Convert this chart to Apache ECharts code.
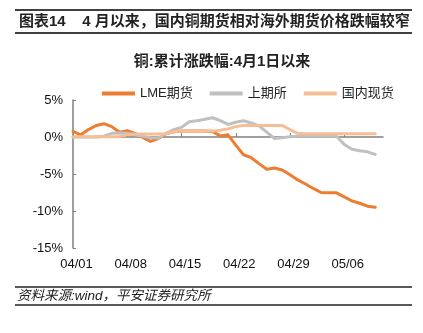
<!DOCTYPE html>
<html>
<head>
<meta charset="utf-8">
<script src="https://cdn.jsdelivr.net/npm/echarts@6/dist/echarts.min.js"></script>
<style>
html,body{margin:0;padding:0;background:#fff;}
#c{width:423px;height:333px;}
</style>
</head>
<body>
<div id="c"></div>
<script>
var dates = ['04/01','04/02','04/03','04/04','04/05','04/06','04/07','04/08','04/09','04/10',
  '04/11','04/12','04/13','04/14','04/15','04/16','04/17','04/18','04/19','04/20',
  '04/21','04/22','04/23','04/24','04/25','04/26','04/27','04/28','04/29','04/30',
  '05/01','05/02','05/03','05/04','05/05','05/06','05/07','05/08','05/09','05/10','05/11'];
var seriesNames = ['LME期货','上期所','国内现货'];
var lme = [0.75,0.3,1.0,1.55,1.8,1.4,0.65,0.85,0.5,-0.05,
  -0.6,-0.2,0.45,0.7,0.8,0.8,0.8,0.8,0.75,0.15,
  0.3,-1.1,-2.4,-2.8,-3.6,-4.35,-4.2,-4.45,-5.1,-5.8,
  -6.35,-6.95,-7.5,-7.55,-7.55,-8.1,-8.65,-8.95,-9.35,-9.5];
var shfe = [0,0,0,0,0.1,0.5,0.55,0.5,0.3,0.1,
  -0.1,-0.15,0.5,1.0,1.3,2.05,2.2,2.4,2.6,2.2,
  1.7,2.0,2.2,1.9,1.5,0.65,-0.2,-0.1,0.05,0.1,
  0.1,0.1,0.1,0.1,0.1,-1.0,-1.65,-1.85,-2.0,-2.35];
var spot = [0,0.05,0.05,0.05,0.05,0.05,0.05,0.3,0.4,0.4,
  0.4,0.4,0.45,0.7,0.85,0.8,0.8,0.8,0.8,0.9,
  1.1,1.4,1.55,1.55,1.55,1.55,1.55,1.55,1.0,0.5,
  0.45,0.45,0.45,0.45,0.45,0.45,0.45,0.45,0.45,0.45];
var yTicks = {min:-15, max:5, step:5};
var colors = ['#ED7D31','#C0C0C0','#F6BE94'];

var FONT = '"Liberation Sans", "Noto Sans CJK SC", sans-serif';
var chart = echarts.init(document.getElementById('c'), null, {renderer:'canvas'});
var seriesData = [lme, shfe, spot];
chart.setOption({
  animation: false,
  textStyle: {fontFamily: FONT},
  color: colors,
  grid: {left: 73, top: 100, width: 310, height: 148},
  legend: {
    left: 97, top: 82, itemGap: 17, itemWidth: 33, itemHeight: 4, icon: 'rect',
    data: seriesNames,
    textStyle: {fontSize: 13, color: '#222', fontFamily: FONT}
  },
  xAxis: [{
    type: 'category', data: dates, boundaryGap: false, position: 'bottom',
    axisLine: {show: false, onZero: false},
    axisTick: {show: false},
    splitLine: {show: false},
    axisLabel: {interval: 6, fontSize: 13, color: '#111', margin: 10, padding: [0,0,0,7], fontFamily: FONT}
  }, {
    type: 'category', data: dates, boundaryGap: false, position: 'bottom',
    axisLine: {show: true, onZero: true, lineStyle: {color: '#808080', width: 1.5}},
    axisTick: {show: true, inside: true, length: 4, interval: 6, lineStyle: {color: '#808080', width: 1}},
    axisLabel: {show: false},
    splitLine: {show: false}
  }],
  yAxis: {
    type: 'value', min: yTicks.min, max: yTicks.max, interval: yTicks.step,
    axisLine: {show: true, lineStyle: {color: '#808080', width: 1.5}},
    axisTick: {show: true, inside: true, length: 3, lineStyle: {color: '#808080'}},
    splitLine: {show: false},
    axisLabel: {formatter: '{value}%', fontSize: 13, color: '#111', margin: 10, fontFamily: FONT}
  },
  series: seriesNames.map(function(n, k){
    return {
      name: n, type: 'line', xAxisIndex: 0, data: seriesData[k],
      symbol: 'none', showSymbol: false,
      lineStyle: {width: 3, color: colors[k], cap: 'round', join: 'round'},
      itemStyle: {color: colors[k]},
      emphasis: {disabled: true}
    };
  }),
  graphic: [
    {type:'line', shape:{x1:15, y1:10, x2:412, y2:10}, style:{stroke:'#404040', lineWidth:2}},
    {type:'text', x:19, y:22, style:{text:'图表14    4 月以来，国内铜期货相对海外期货价格跌幅较窄', font:'bold 15px '+FONT, fill:'#222', textVerticalAlign:'middle'}},
    {type:'line', shape:{x1:15, y1:33, x2:412, y2:33}, style:{stroke:'#404040', lineWidth:2}},
    {type:'text', x:222, y:62, style:{text:'铜:累计涨跌幅:4月1日以来', font:'bold 15px '+FONT, fill:'#222', textAlign:'center', textVerticalAlign:'middle'}},
    {type:'line', shape:{x1:15, y1:287, x2:412, y2:287}, style:{stroke:'#222', lineWidth:1.5}},
    {type:'text', x:17, y:296, style:{text:'资料来源:wind，平安证券研究所', font:'italic 13.5px '+FONT, fill:'#222', textVerticalAlign:'middle'}},
    {type:'line', shape:{x1:15, y1:305, x2:412, y2:305}, style:{stroke:'#222', lineWidth:1.5}}
  ]
});
</script>
</body>
</html>
